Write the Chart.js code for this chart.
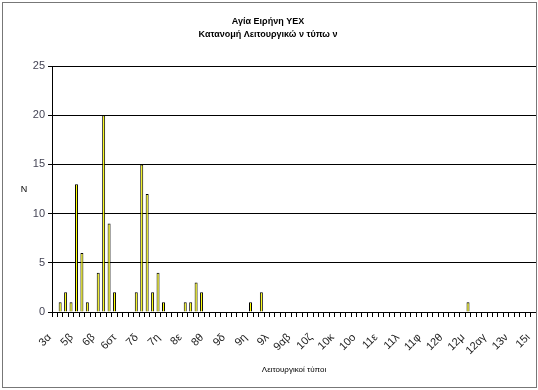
<!DOCTYPE html>
<html>
<head>
<meta charset="utf-8">
<script src="https://cdn.jsdelivr.net/npm/chart.js@4.4.1/dist/chart.umd.min.js"></script>
<style>
  html, body { margin: 0; padding: 0; background: #fff; }
  #wrap { position: relative; width: 538px; height: 390px; }
  #frame { position: absolute; left: 2px; top: 2px; width: 533px; height: 384px; border: 1px solid #777; pointer-events: none; }
  canvas { position: absolute; left: 0; top: 0; }
</style>
</head>
<body>
<div id="wrap">
  <canvas id="chart" width="538" height="390"></canvas>
  <div id="frame"></div>
</div>
<script>
// ---------- DATA ----------
const titleLines = ['Αγία Ειρήνη ΥΕΧ', 'Κατανομή Λειτουργικώ ν τύπω ν'];
const xTitle = 'Λειτουργικοί τύποι';
const yTitle = 'N';

// one label shown every 4th type, the types in between are not named on the axis
const tickLabels = ['3α', '5β', '6β', '6στ', '7δ', '7η', '8ε', '8θ', '9δ', '9η', '9λ', '9αβ',
  '10ζ', '10κ', '10ο', '11ε', '11λ', '11φ', '12θ', '12μ', '12αγ', '13ν', '15ι'];
const labelStep = 4;
const typeCount = 89;

// N per type, in axis order
const counts = [
  0, 1, 2, 1, 13, 6, 1, 0, 4, 20,
  9, 2, 0, 0, 0, 2, 15, 12, 2, 4,
  1, 0, 0, 0, 1, 1, 3, 2, 0, 0,
  0, 0, 0, 0, 0, 0, 1, 0, 2, 0,
  0, 0, 0, 0, 0, 0, 0, 0, 0, 0,
  0, 0, 0, 0, 0, 0, 0, 0, 0, 0,
  0, 0, 0, 0, 0, 0, 0, 0, 0, 0,
  0, 0, 0, 0, 0, 0, 1, 0, 0, 0,
  0, 0, 0, 0, 0, 0, 0, 0, 0
];

const yMax = 25;
const yStep = 5;

const categories = [];
for (let i = 0; i < typeCount; i++) {
  categories.push(i % labelStep === 0 ? (tickLabels[i / labelStep] || '') : '');
}

const FONT = "'Liberation Sans', Arial, sans-serif";

// upright "N" left of the value axis
const yTitlePlugin = {
  id: 'yTitle',
  afterDraw(chart) {
    const { ctx, chartArea } = chart;
    ctx.save();
    ctx.font = '9px ' + FONT;
    ctx.fillStyle = '#000';
    ctx.textAlign = 'center';
    ctx.textBaseline = 'middle';
    ctx.fillText(yTitle, 24, (chartArea.top + chartArea.bottom) / 2);
    ctx.restore();
  }
};

new Chart(document.getElementById('chart'), {
  type: 'bar',
  data: {
    labels: categories,
    datasets: [{
      data: counts,
      backgroundColor: '#ffff00',
      borderColor: '#000',
      borderWidth: 1,
      barPercentage: 0.55,
      categoryPercentage: 1
    }]
  },
  options: {
    responsive: false,
    animation: false,
    layout: { padding: { left: 0, right: 2, top: 0, bottom: 0 } },
    plugins: {
      legend: { display: false },
      tooltip: { enabled: false },
      title: {
        display: true,
        text: titleLines,
        color: '#000',
        font: { family: FONT, size: 9, lineHeight: 1.45 },
        padding: { top: 15, bottom: 25 }
      }
    },
    scales: {
      x: {
        offset: true,
        grid: { display: true, drawOnChartArea: false, drawTicks: true, tickLength: 5, color: '#000', offset: true },
        border: { color: '#000', width: 1 },
        ticks: {
          autoSkip: false,
          minRotation: 45,
          maxRotation: 45,
          color: '#222',
          padding: 14,
          labelOffset: -5,
          font: { family: FONT, size: 11 }
        },
        title: {
          display: true,
          text: xTitle,
          color: '#000',
          font: { family: FONT, size: 8 },
          padding: { top: 0, bottom: 15 }
        },
        afterFit(s) {
          s.height = 78;
          s.paddingLeft = 0;
          s.paddingRight = 0;
        }
      },
      y: {
        min: 0,
        max: yMax,
        grid: { color: '#000', lineWidth: 1, tickLength: 4 },
        border: { color: '#000', width: 1 },
        ticks: {
          stepSize: yStep,
          color: '#445',
          padding: 3,
          font: { family: FONT, size: 11 }
        },
        afterFit(s) { s.width = 52; }
      }
    }
  },
  plugins: [yTitlePlugin]
});
</script>
</body>
</html>
